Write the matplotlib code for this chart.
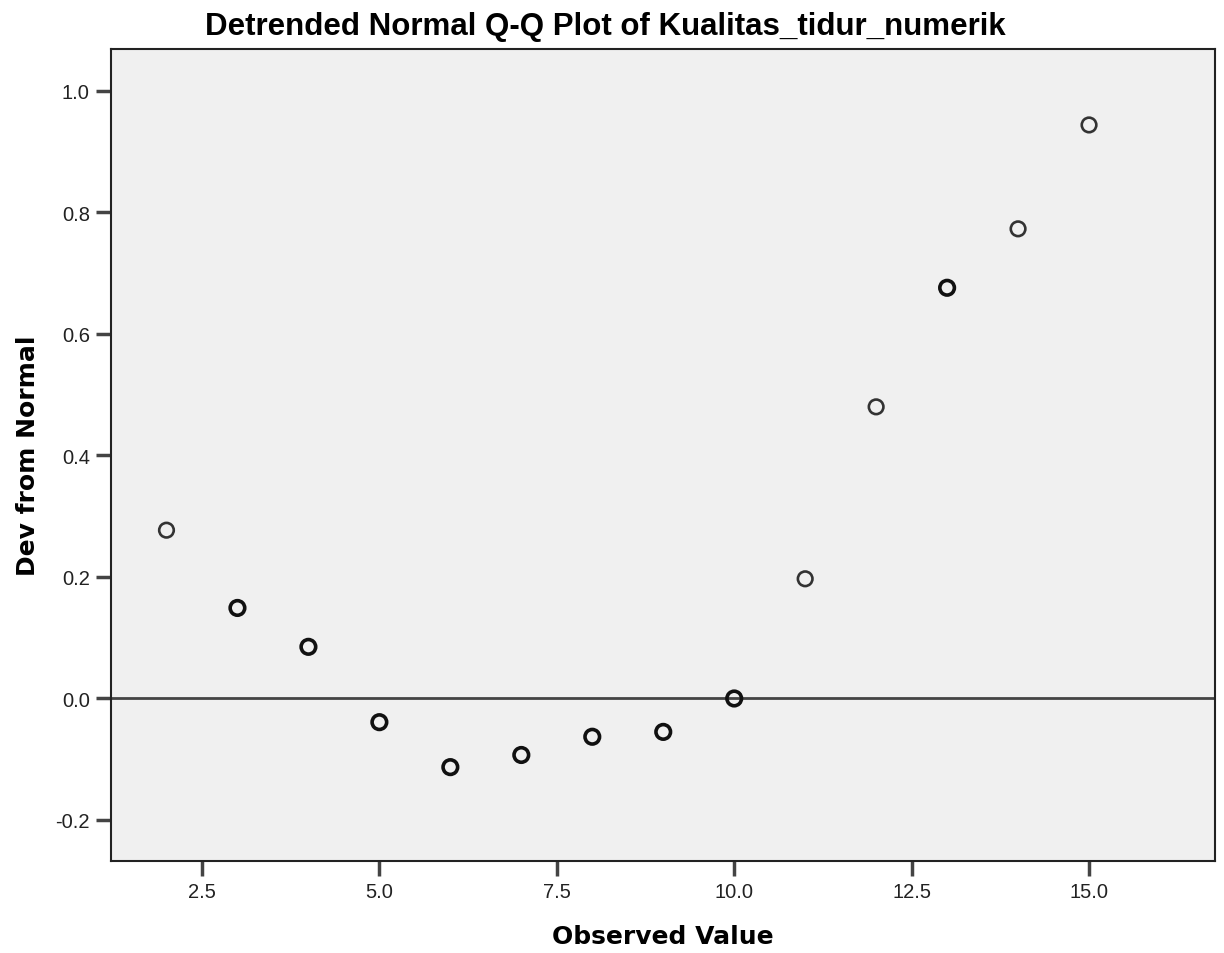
import matplotlib
matplotlib.use("Agg")
import matplotlib.pyplot as plt

observed = [2, 3, 4, 5, 6, 7, 8, 9, 10, 11, 12, 13, 14, 15]
dev = [0.277, 0.149, 0.085, -0.039, -0.113, -0.093, -0.063, -0.055, 0.0,
       0.197, 0.480, 0.676, 0.773, 0.944]
bold = [False, True, True, True, True, True, True, True, True, False, False, True, False, False]
xticks = [2.5, 5.0, 7.5, 10.0, 12.5, 15.0]
yticks = [-0.2, 0.0, 0.2, 0.4, 0.6, 0.8, 1.0]

plt.rcParams['font.family'] = ['Liberation Sans', 'DejaVu Sans']

fig = plt.figure(figsize=(12.24, 9.54), dpi=100)
ax = fig.add_axes([110.7/1224, 1 - 862/954, (1215-110.7)/1224, (862-50)/954])
ax.set_facecolor('#f0f0f0')
ax.set_xlim(1.214, 16.775)
ax.set_ylim(-0.2675, 1.069)

ax.axhline(0.0, color='#444444', lw=2.0, zorder=1)

for x, y, b in zip(observed, dev, bold):
    ax.scatter([x], [y], s=110, facecolor='none',
               edgecolor='#111111' if b else '#333333',
               linewidths=2.6 if b else 1.9, zorder=3)

ax.set_xticks(xticks)
ax.set_xticklabels([f"{v:.1f}" for v in xticks])
ax.set_yticks(yticks)
ax.set_yticklabels([f"{v:.1f}" for v in yticks])
ax.tick_params(axis='both', direction='out', length=11, width=2.5, color='#444444',
               labelsize=14.5, labelcolor='#222222', pad=4)

for s in ax.spines.values():
    s.set_color('#222222')
    s.set_linewidth(1.5)

ax.set_xlabel('Observed Value', fontsize=18, fontweight='bold', labelpad=17,
              family='DejaVu Sans')
ax.set_ylabel('Dev from Normal', fontsize=18, fontweight='bold', labelpad=11,
              family='DejaVu Sans')
fig.text(605/1224, 1 - 27/954, 'Detrended Normal Q-Q Plot of Kualitas_tidur_numerik',
         fontsize=22.5, fontweight='bold', ha='center', va='center')

fig.savefig('out.png', dpi=100)
